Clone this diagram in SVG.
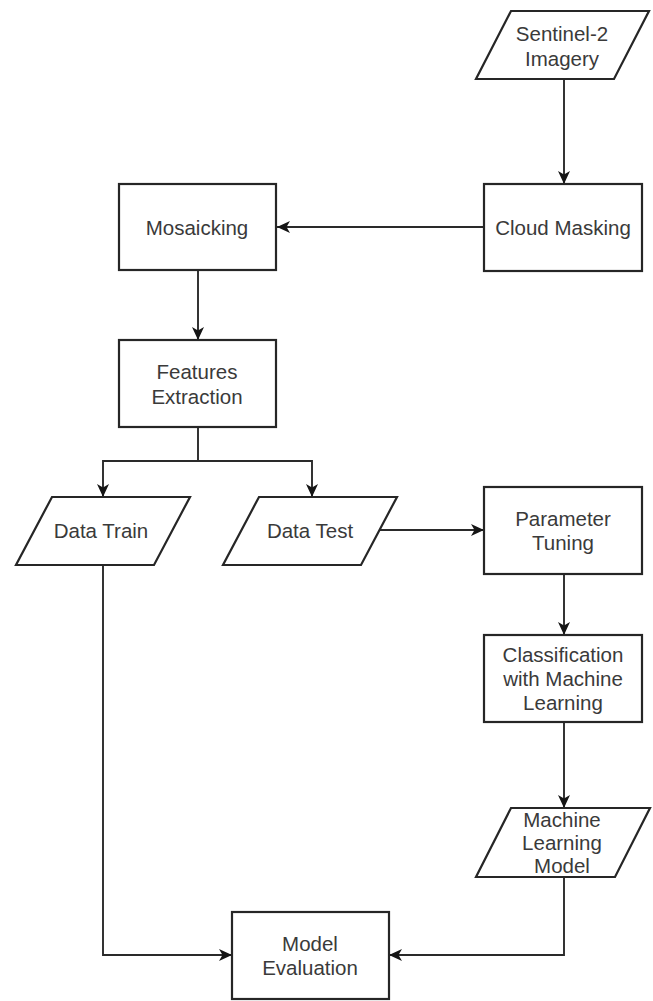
<svg xmlns="http://www.w3.org/2000/svg" width="653" height="1001" viewBox="0 0 653 1001">
  <style>
    .shape { fill: #ffffff; stroke: #262626; stroke-width: 2.2; }
    .edge { fill: none; stroke: #2a2a2a; stroke-width: 1.9; }
    .label { font-family: "Liberation Sans", Arial, sans-serif; font-size: 20.5px; fill: #3a3a3a; text-anchor: middle; dominant-baseline: central; }
  </style>
  <defs>
    <marker id="arrow" markerUnits="userSpaceOnUse" markerWidth="14" markerHeight="13" refX="13" refY="6" orient="auto">
      <path d="M0,0 L13,6 L0,12 L3.5,6 Z" fill="#151515"/>
    </marker>
  </defs>
  <rect width="653" height="1001" fill="#ffffff"/>

  <!-- connectors -->
  <g id="connectors">
    <path class="edge" d="M564,79 L564,184" marker-end="url(#arrow)"/>
    <path class="edge" d="M484,227 L277,227" marker-end="url(#arrow)"/>
    <path class="edge" d="M198,270 L198,340" marker-end="url(#arrow)"/>
    <path class="edge" d="M198,427 L198,461 L103,461 L103,497" marker-end="url(#arrow)"/>
    <path class="edge" d="M198,461 L312,461 L312,497" marker-end="url(#arrow)"/>
    <path class="edge" d="M380,530 L484,530" marker-end="url(#arrow)"/>
    <path class="edge" d="M564,574 L564,635" marker-end="url(#arrow)"/>
    <path class="edge" d="M564,722 L564,808" marker-end="url(#arrow)"/>
    <path class="edge" d="M564,877 L564,955 L389,955" marker-end="url(#arrow)"/>
    <path class="edge" d="M103,565 L103,955 L232,955" marker-end="url(#arrow)"/>
  </g>

  <!-- nodes -->
  <g id="sentinel-imagery">
    <polygon class="shape" points="511,11 649,11 614,79 476,79"/>
    <text class="label" x="562" y="33">Sentinel-2</text>
    <text class="label" x="562" y="58">Imagery</text>
  </g>
  <g id="cloud-masking">
    <rect class="shape" x="484" y="184" width="158" height="87"/>
    <text class="label" x="563" y="227">Cloud Masking</text>
  </g>
  <g id="mosaicking">
    <rect class="shape" x="119" y="184" width="157" height="86"/>
    <text class="label" x="197" y="227">Mosaicking</text>
  </g>
  <g id="features-extraction">
    <rect class="shape" x="119" y="340" width="157" height="87"/>
    <text class="label" x="197" y="371">Features</text>
    <text class="label" x="197" y="396">Extraction</text>
  </g>
  <g id="data-train">
    <polygon class="shape" points="52,497 190,497 154,565 16,565"/>
    <text class="label" x="101" y="530">Data Train</text>
  </g>
  <g id="data-test">
    <polygon class="shape" points="259,497 397,497 361,565 223,565"/>
    <text class="label" x="310" y="530">Data Test</text>
  </g>
  <g id="parameter-tuning">
    <rect class="shape" x="484" y="487" width="158" height="87"/>
    <text class="label" x="563" y="518">Parameter</text>
    <text class="label" x="563" y="542">Tuning</text>
  </g>
  <g id="classification">
    <rect class="shape" x="484" y="635" width="158" height="87"/>
    <text class="label" x="563" y="654">Classification</text>
    <text class="label" x="563" y="678">with Machine</text>
    <text class="label" x="563" y="702">Learning</text>
  </g>
  <g id="ml-model">
    <polygon class="shape" points="511,808 650,808 615,877 476,877"/>
    <text class="label" x="562" y="819">Machine</text>
    <text class="label" x="562" y="842">Learning</text>
    <text class="label" x="562" y="865">Model</text>
  </g>
  <g id="model-evaluation">
    <rect class="shape" x="232" y="912" width="157" height="87"/>
    <text class="label" x="310" y="943">Model</text>
    <text class="label" x="310" y="967">Evaluation</text>
  </g>
</svg>
